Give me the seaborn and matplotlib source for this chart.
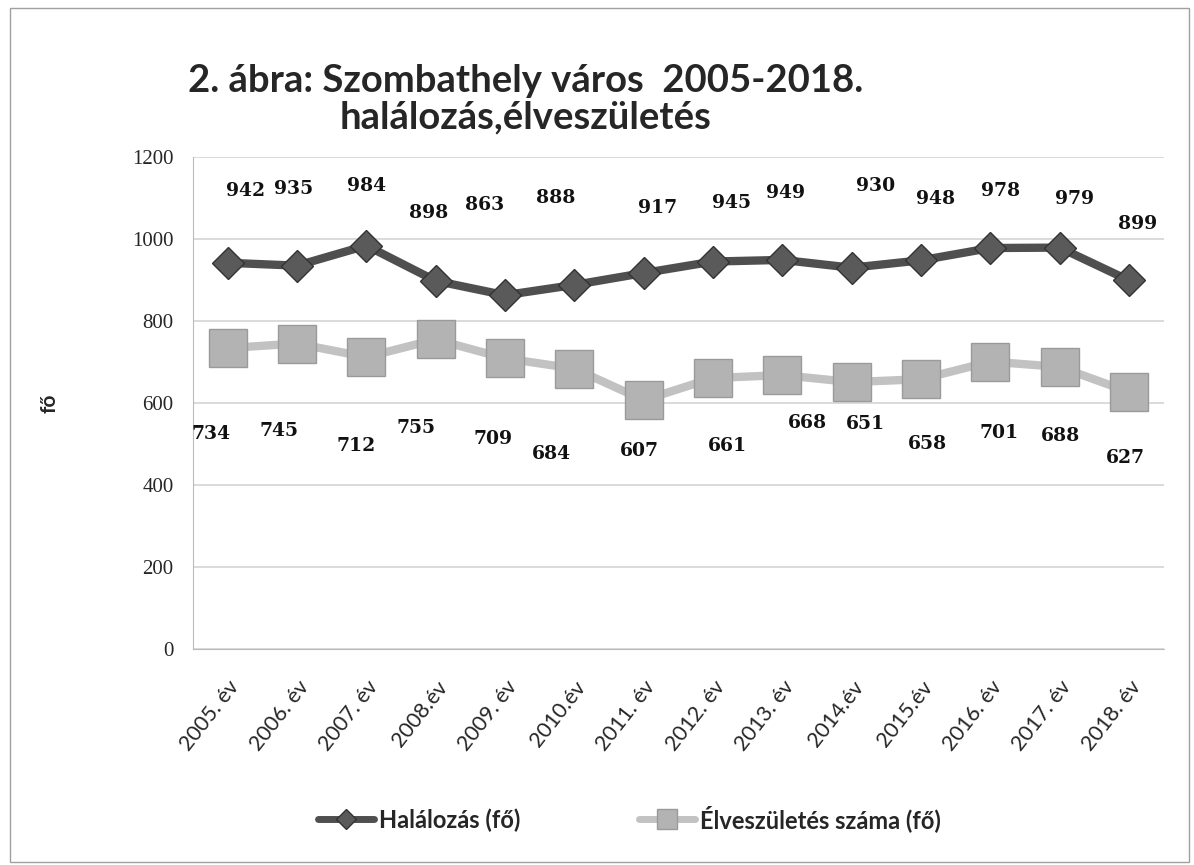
#!/usr/bin/env python3
import pandas as pd
import numpy as np
import matplotlib
matplotlib.use("Agg")
import matplotlib.pyplot as plt
from matplotlib.lines import Line2D
from matplotlib.patches import Rectangle
import seaborn as sns

# data
years = ["2005. év", "2006. év", "2007. év", "2008.év", "2009. év", "2010.év", "2011. év",
         "2012. év", "2013. év", "2014.év", "2015.év", "2016. év", "2017. év", "2018. év"]
deaths = [942, 935, 984, 898, 863, 888, 917, 945, 949, 930, 948, 978, 979, 899]
births = [734, 745, 712, 755, 709, 684, 607, 661, 668, 651, 658, 701, 688, 627]

death_name = "Halálozás (fő)"
birth_name = "Élveszületés száma (fő)"

# where the (hand placed) value labels sit, offset in pixels from the point
death_lbl_off = [(18, 72), (-3, 77), (0, 60), (-7, 68), (-20, 90), (-19, 87), (14, 65),
                 (19, 59), (3, 67), (24, 82), (15, 61), (10, 57), (15, 49), (9, 56)]
birth_lbl_off = [(-17, -86), (-18, -87), (-10, -89), (-20, -89), (-12, -81), (-23, -85), (-4, -51),
                 (14, -68), (25, -48), (14, -42), (6, -65), (9, -71), (1, -69), (-4, -66)]


def main():
    df = pd.DataFrame({"ev": years * 2,
                       "fo": deaths + births,
                       "sor": [death_name] * len(years) + [birth_name] * len(years)})

    sns.set_style("white")
    plt.rcParams["font.family"] = ["Lato", "DejaVu Sans"]

    fig = plt.figure(figsize=(11.94, 8.65), dpi=100)
    ax = fig.add_axes([0.1616, 0.2497, 0.813, 0.5688])

    dark = "#4f4f4f"
    light = "#c2c2c2"

    sns.lineplot(data=df[df["sor"] == death_name], x="ev", y="fo", color=dark,
                 linewidth=6, marker="D", markersize=16, markerfacecolor="#5a5a5a",
                 markeredgecolor="#333333", markeredgewidth=1, sort=False, ax=ax)
    sns.lineplot(data=df[df["sor"] == birth_name], x="ev", y="fo", color=light,
                 linewidth=6, marker="s", markersize=27, markerfacecolor="#b3b3b3",
                 markeredgecolor="#9a9a9a", markeredgewidth=1, sort=False, ax=ax)

    # data labels
    lbl_font = dict(family=["DejaVu Serif"], fontsize=13.5,
                    fontweight="bold", color="#111111")
    for i, v in enumerate(deaths):
        ax.annotate(str(v), xy=(i, v), xytext=death_lbl_off[i], textcoords="offset pixels",
                    ha="center", va="center", **lbl_font)
    for i, v in enumerate(births):
        ax.annotate(str(v), xy=(i, v), xytext=birth_lbl_off[i], textcoords="offset pixels",
                    ha="center", va="center", **lbl_font)

    ax.set_xlim(-0.5, len(years) - 0.5)
    ax.set_ylim(0, 1200)
    ax.set_yticks(np.arange(0, 1201, 200))
    ax.yaxis.grid(True, color="#d4d4d4", linewidth=1.2)
    ax.xaxis.grid(False)

    ax.set_xlabel("")
    ax.set_ylabel("fő", fontsize=15, fontweight="bold", labelpad=52)
    ax.tick_params(axis="y", labelsize=15, length=4, color="#aaaaaa", pad=10)
    for t in ax.get_yticklabels():
        t.set_family(["Liberation Serif", "DejaVu Serif"])
    ax.tick_params(axis="x", which="major", length=0, pad=20)
    ax.set_xticks(np.arange(-0.5, len(years)), minor=True)
    ax.tick_params(axis="x", which="minor", length=5, color="#aaaaaa", direction="out")
    plt.setp(ax.get_xticklabels(), rotation=52, ha="right", rotation_mode="anchor",
             fontsize=15.5)

    for s in ["top", "right"]:
        ax.spines[s].set_visible(False)
    ax.spines["left"].set_color("#bbbbbb")
    ax.spines["bottom"].set_color("#bbbbbb")

    # title
    fig.text(0.44, 0.885, "2. ábra: Szombathely város  2005-2018.\nhalálozás,élveszületés",
             ha="center", va="center", fontsize=27.5, fontweight="bold", linespacing=1.1)

    # legend
    handles = [Line2D([], [], color=dark, linewidth=5, marker="D", markersize=10,
                      markerfacecolor="#5a5a5a", markeredgecolor="#333333"),
               Line2D([], [], color=light, linewidth=5, marker="s", markersize=15,
                      markerfacecolor="#b3b3b3", markeredgecolor="#9a9a9a")]
    fig.legend(handles, [death_name, birth_name], loc="center", bbox_to_anchor=(0.527, 0.054),
               ncol=2, frameon=False, handlelength=2.4, handletextpad=0.2, columnspacing=5.0,
               prop=dict(size=17, weight="bold"))

    # thin frame of the chart object
    fig.patches.append(Rectangle((0.008, 0.003), 0.988, 0.988, transform=fig.transFigure,
                                 fill=False, edgecolor="#a0a0a0", linewidth=1))

    fig.savefig("out.png", dpi=100, facecolor="white")


if __name__ == "__main__":
    main()
